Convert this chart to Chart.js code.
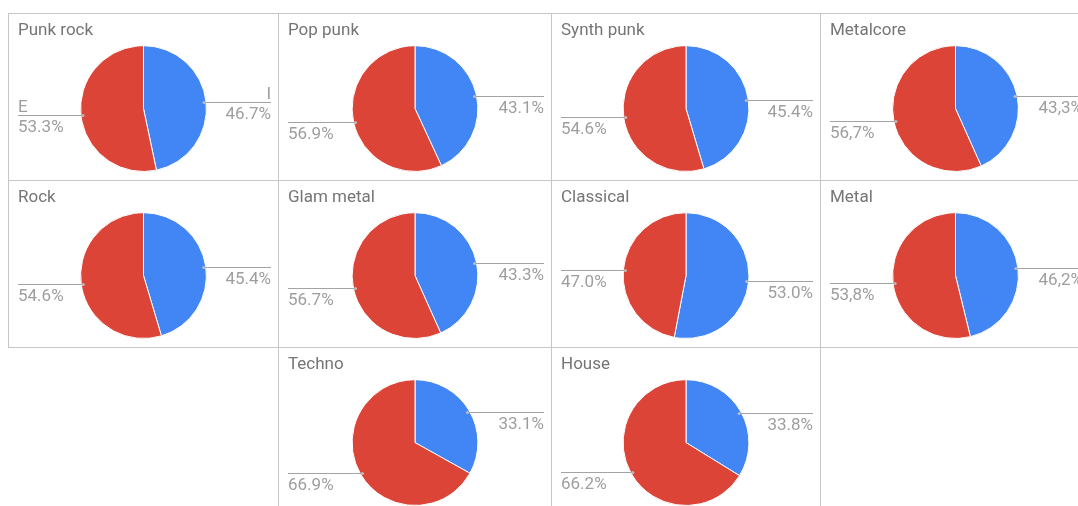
<!DOCTYPE html>
<html><head><meta charset="utf-8">
<script src="https://cdn.jsdelivr.net/npm/chart.js@4.4.1/dist/chart.umd.min.js"></script>
<style>
html,body{margin:0;padding:0;background:#fff;width:1078px;height:506px;overflow:hidden;position:relative;}
.panel{position:absolute;box-sizing:border-box;border:1px solid #c6c6c6;}
.panel canvas{position:absolute;left:0;top:0;}
</style></head><body>
<script>
// ---- data ----
const genres = ['Punk rock','Pop punk','Synth punk','Metalcore','Rock','Glam metal','Classical','Metal','Techno','House'];
const categories = ['I','E'];
const introvertShare = [46.7, 43.1, 45.4, 43.3, 45.4, 43.3, 53.0, 46.2, 33.1, 33.8];
const extrovertShare = [53.3, 56.9, 54.6, 56.7, 54.6, 56.7, 47.0, 53.8, 66.9, 66.2];
const decimalMarks = ['.', '.', '.', ',', '.', '.', '.', ',', '.', '.'];
const showCategoryLabels = [true, false, false, false, false, false, false, false, false, false];

// ---- layout ----
const colLefts = [8, 278, 551, 820];
const colWidths = [270, 273, 269, 270];
const rowTops = [13, 180, 347];
const panelHeight = 167;
const cells = [[0,0],[0,1],[0,2],[0,3],[1,0],[1,1],[1,2],[1,3],[2,1],[2,2]];
const sliceColors = ['#4285f4', '#db4437'];

const leaderPlugin = {
  id: 'leaderLabels',
  afterDatasetsDraw(chart, args, opts) {
    const i = opts.index;
    const ctx = chart.ctx;
    const meta = chart.getDatasetMeta(0);
    const vals = chart.data.datasets[0].data;
    meta.data.forEach((arc, k) => {
      const p = arc.getProps(['x','y','startAngle','endAngle','outerRadius'], true);
      const mid = (p.startAngle + p.endAngle) / 2;
      const r = p.outerRadius - 2;
      const px = p.x + Math.cos(mid) * r;
      const py = p.y + Math.sin(mid) * r;
      const right = Math.cos(mid) >= 0;
      const edge = right ? chart.width - 7 : 9;
      const ly = Math.round(py) + 0.5;
      ctx.save();
      ctx.strokeStyle = '#a3a3a3';
      ctx.lineWidth = 1;
      ctx.beginPath();
      ctx.moveTo(px, ly);
      ctx.lineTo(edge, ly);
      ctx.stroke();
      ctx.fillStyle = 'rgba(190,190,190,0.95)';
      ctx.beginPath();
      ctx.arc(px, ly, 1.6, 0, Math.PI * 2);
      ctx.fill();
      ctx.fillStyle = '#9e9e9e';
      ctx.font = '17px Roboto';
      ctx.textAlign = right ? 'right' : 'left';
      ctx.textBaseline = 'alphabetic';
      const txt = Number(vals[k]).toFixed(1).replace('.', decimalMarks[i]) + '%';
      ctx.fillText(txt, edge, ly + 16.5);
      if (showCategoryLabels[i]) {
        ctx.fillText(chart.data.labels[k], edge, ly - 4);
      }
      ctx.restore();
    });
  }
};

cells.forEach(([row, col], i) => {
  const div = document.createElement('div');
  div.className = 'panel';
  div.style.left = colLefts[col] + 'px';
  div.style.top = rowTops[row] + 'px';
  div.style.width = (colWidths[col] + 1) + 'px';
  div.style.height = (panelHeight + 1) + 'px';
  const cv = document.createElement('canvas');
  cv.width = colWidths[col] - 1;
  cv.height = panelHeight - 1;
  cv.style.width = cv.width + 'px';
  cv.style.height = cv.height + 'px';
  div.appendChild(cv);
  document.body.appendChild(div);

  new Chart(cv, {
    type: 'pie',
    data: {
      labels: categories,
      datasets: [{
        data: [introvertShare[i], extrovertShare[i]],
        backgroundColor: sliceColors,
        borderColor: '#ffffff',
        borderWidth: 1
      }]
    },
    options: {
      responsive: false,
      animation: false,
      layout: { padding: { left: 9, right: 9, top: 0, bottom: 8 } },
      plugins: {
        legend: { display: false },
        tooltip: { enabled: false },
        title: {
          display: true,
          text: genres[i],
          align: 'start',
          color: '#757575',
          font: { family: 'Roboto', size: 17, weight: 'normal', lineHeight: 1.2 },
          padding: { top: 7, bottom: 3.8 }
        },
        leaderLabels: { index: i }
      }
    },
    plugins: [leaderPlugin]
  });
});
</script>
</body></html>
